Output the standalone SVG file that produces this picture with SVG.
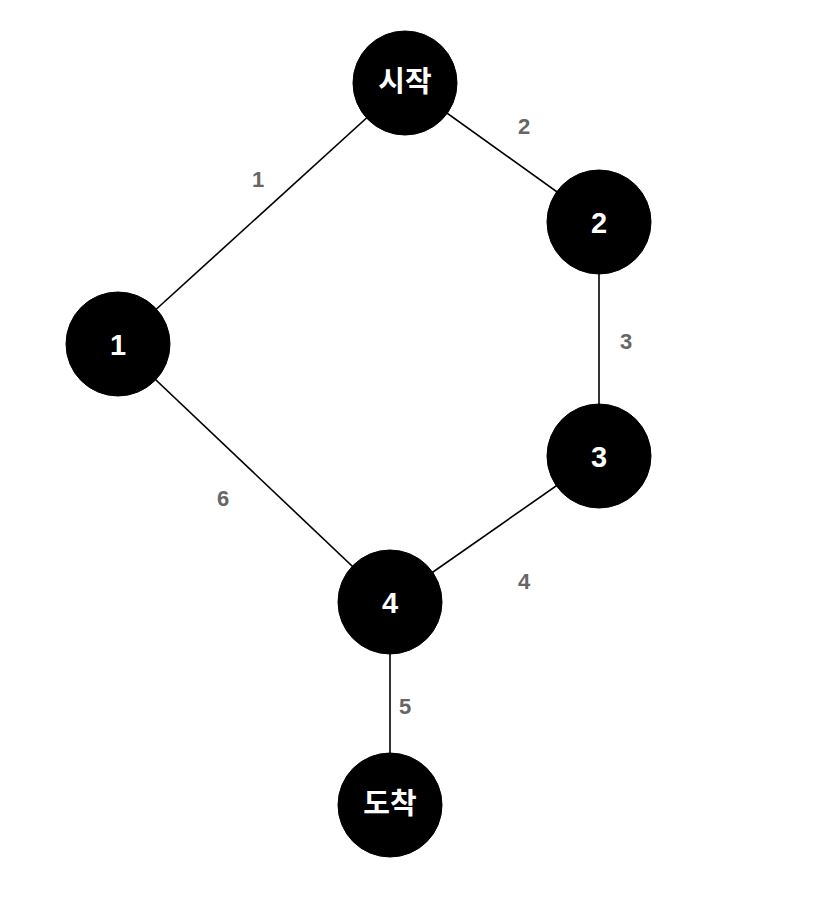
<svg xmlns="http://www.w3.org/2000/svg" width="820" height="910" viewBox="0 0 820 910">
<style>
.node{fill:#000;stroke:#000;stroke-width:1}
.nl{fill:#fff;font-family:"Liberation Sans","Noto Sans CJK KR",sans-serif;font-weight:bold;font-size:29px;text-anchor:middle;dominant-baseline:central}
.edge{stroke:#000;stroke-width:1.6;fill:none}
.el{fill:#666;font-family:"Liberation Sans",sans-serif;font-weight:bold;font-size:22px;text-anchor:middle;dominant-baseline:central}
</style>
<rect width="820" height="910" fill="#fff"/>
<g id="connectors">
<line class="edge" x1="405" y1="83" x2="118" y2="344"/>
<line class="edge" x1="405" y1="83" x2="599" y2="222"/>
<line class="edge" x1="599" y1="222" x2="599" y2="456"/>
<line class="edge" x1="599" y1="456" x2="390" y2="602"/>
<line class="edge" x1="118" y1="344" x2="390" y2="602"/>
<line class="edge" x1="390" y1="602" x2="390" y2="805"/>
<text class="el" x="258" y="179">1</text>
<text class="el" x="524" y="126">2</text>
<text class="el" x="626" y="341">3</text>
<text class="el" x="524" y="581">4</text>
<text class="el" x="405" y="706">5</text>
<text class="el" x="223" y="498">6</text>
</g>
<g id="node-start"><circle class="node" cx="405" cy="83" r="52"/><text class="nl" x="405" y="82">시작</text></g>
<g id="node-2"><circle class="node" cx="599" cy="222" r="52"/><text class="nl" x="599" y="223">2</text></g>
<g id="node-1"><circle class="node" cx="118" cy="344" r="52"/><text class="nl" x="118" y="345">1</text></g>
<g id="node-3"><circle class="node" cx="599" cy="456" r="52"/><text class="nl" x="599" y="457">3</text></g>
<g id="node-4"><circle class="node" cx="390" cy="602" r="52"/><text class="nl" x="390" y="603">4</text></g>
<g id="node-end"><circle class="node" cx="390" cy="805" r="52"/><text class="nl" x="390" y="804">도착</text></g>
</svg>
